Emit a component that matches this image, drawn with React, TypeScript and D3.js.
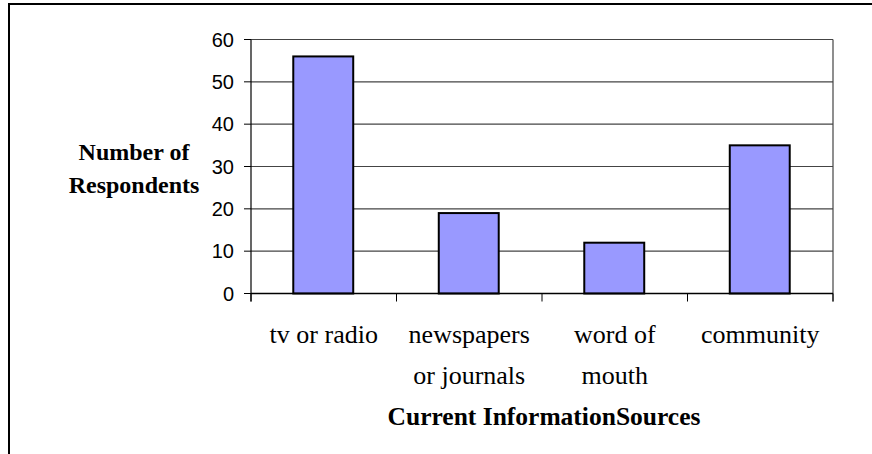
import React from "react";
import * as d3 from "d3";

const categories: string[][] = [["tv or radio"], ["newspapers", "or journals"], ["word of", "mouth"], ["community"]];
const values: number[] = [56, 19, 12, 35];
const yTicks: number[] = [0, 10, 20, 30, 40, 50, 60];
const yTitle: string[] = ["Number of", "Respondents"];
const xTitle = "Current InformationSources";

export default function App() {
  const W = 872, H = 454;
  const left = 251, right = 833, top = 39.5, bottom = 293.5;
  const keys = categories.map((c) => c.join(" "));
  const x = d3.scaleBand<string>().domain(keys).range([left, right]).padding(0);
  const y = d3.scaleLinear().domain([0, 60]).range([bottom, top]);
  const barW = x.bandwidth() * 0.412;
  const serif = "'Liberation Serif', 'Times New Roman', serif";
  const sans = "'Liberation Sans', Arial, sans-serif";
  const boundaries = keys.map((k) => x(k)!).concat([right]);

  return (
    <svg width={W} height={H} style={{ position: "absolute", left: 0, top: 0, background: "#fff" }}>
      <rect x={0} y={0} width={W} height={H} fill="#fff" />
      <rect x={9} y={4} width={W + 20} height={H + 20} fill="none" stroke="#000" strokeWidth={2} />
      {yTicks.map((t) => (
        <g key={t}>
          {t > 0 && (
            <line x1={left} x2={right} y1={y(t)} y2={y(t)} stroke="#444" strokeWidth={1.2} />
          )}
          <line x1={left - 7} x2={left} y1={y(t)} y2={y(t)} stroke="#000" strokeWidth={1} />
          <text x={left - 17} y={y(t) + 7} textAnchor="end" fontFamily={sans} fontSize={20} fill="#000">
            {t}
          </text>
        </g>
      ))}
      <line x1={right} x2={right} y1={top} y2={bottom + 8} stroke="#444" strokeWidth={1.2} />
      {values.map((v, i) => {
        const cx = x(keys[i])! + x.bandwidth() / 2 - 0.5;
        return (
          <rect key={i} x={cx - barW / 2} y={y(v)} width={barW} height={bottom - y(v)} fill="#9999FF" stroke="#000" strokeWidth={2} />
        );
      })}
      <line x1={left} x2={left} y1={top} y2={bottom + 8} stroke="#000" strokeWidth={1.2} />
      <line x1={left} x2={right} y1={bottom} y2={bottom} stroke="#000" strokeWidth={1.5} />
      {boundaries.map((b, i) => (
        <line key={i} x1={b} x2={b} y1={bottom} y2={bottom + 8} stroke="#000" strokeWidth={1} />
      ))}
      {categories.map((lines, i) => {
        const cx = x(keys[i])! + x.bandwidth() / 2;
        return (
          <text key={i} textAnchor="middle" fontFamily={serif} fontSize={26} fill="#000">
            {lines.map((l, j) => (
              <tspan key={j} x={cx} y={343 + j * 41}>
                {l}
              </tspan>
            ))}
          </text>
        );
      })}
      <text x={(left + right) / 2 + 2} y={425} textAnchor="middle" fontFamily={serif} fontSize={25.5} fontWeight="bold" fill="#000">
        {xTitle}
      </text>
      <text textAnchor="middle" fontFamily={serif} fontSize={24} fontWeight="bold" fill="#000">
        {yTitle.map((l, j) => (
          <tspan key={j} x={134} y={160 + j * 33}>
            {l}
          </tspan>
        ))}
      </text>
    </svg>
  );
}
